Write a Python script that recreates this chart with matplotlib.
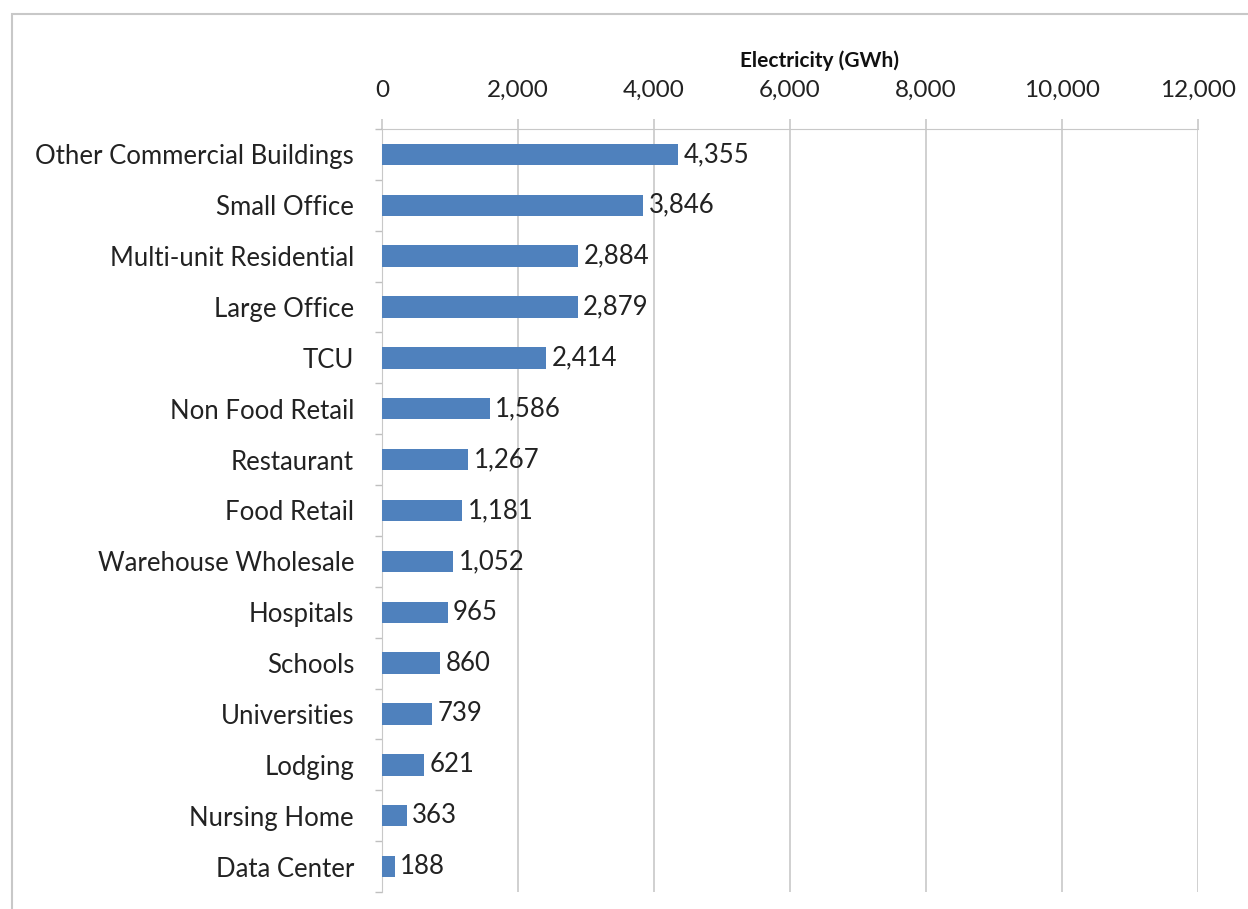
import matplotlib
matplotlib.use('Agg')
import matplotlib.pyplot as plt
from matplotlib.patches import Rectangle
import numpy as np

categories = ['Other Commercial Buildings', 'Small Office', 'Multi-unit Residential',
              'Large Office', 'TCU', 'Non Food Retail', 'Restaurant', 'Food Retail',
              'Warehouse Wholesale', 'Hospitals', 'Schools', 'Universities', 'Lodging',
              'Nursing Home', 'Data Center']
values = [4355, 3846, 2884, 2879, 2414, 1586, 1267, 1181, 1052, 965, 860, 739, 621, 363, 188]

plt.rcParams['font.family'] = ['Lato', 'DejaVu Sans']

fig = plt.figure(figsize=(12.48, 9.09), dpi=100)
ax = fig.add_axes([0.306, 0.0187, 0.654, 0.8394])

y = np.arange(len(categories))
ax.barh(y, values, height=0.42, color='#4F81BD', zorder=3)
for yi, v in zip(y, values):
    ax.text(v + 80, yi, '{:,}'.format(v), va='center', ha='left', fontsize=18.5, color='#222222')

ax.set_ylim(len(categories) - 0.5, -0.5)
ax.set_xlim(0, 12000)
ax.set_xticks(np.arange(0, 12001, 2000))
ax.set_xticklabels(['{:,}'.format(t) for t in range(0, 12001, 2000)])
ax.xaxis.tick_top()
# axis title sits a bit right of centre, like in the original
ax.text(0.536, 1.09, 'Electricity (GWh)', transform=ax.transAxes, ha='center', va='center',
        fontsize=15, fontweight='bold', color='#111111')
ax.set_yticks(y)
ax.set_yticks(np.arange(-0.5, len(categories), 1), minor=True)
ax.set_yticklabels(categories)
ax.tick_params(axis='x', length=7, width=1.2, color='#C8C8C8', labelsize=17.5, pad=13,
               labelcolor='#222222')
ax.tick_params(axis='y', which='major', length=0, labelsize=18.5, pad=20, colors='#222222')
ax.tick_params(axis='y', which='minor', length=5, color='#BFBFBF', width=1)

ax.grid(axis='x', color='#C8C8C8', linewidth=1.2, zorder=0)
for s in ['right', 'bottom']:
    ax.spines[s].set_visible(False)
ax.spines['top'].set_color('#C8C8C8')
ax.spines['left'].set_color('#C8C8C8')

fig.patches.append(Rectangle((12 / 1248, -0.01), 1.0, 1 - 14 / 909 + 0.01,
                             transform=fig.transFigure, fill=False,
                             edgecolor='#C8C8C8', linewidth=1.5))

plt.savefig('out.png', dpi=100)
